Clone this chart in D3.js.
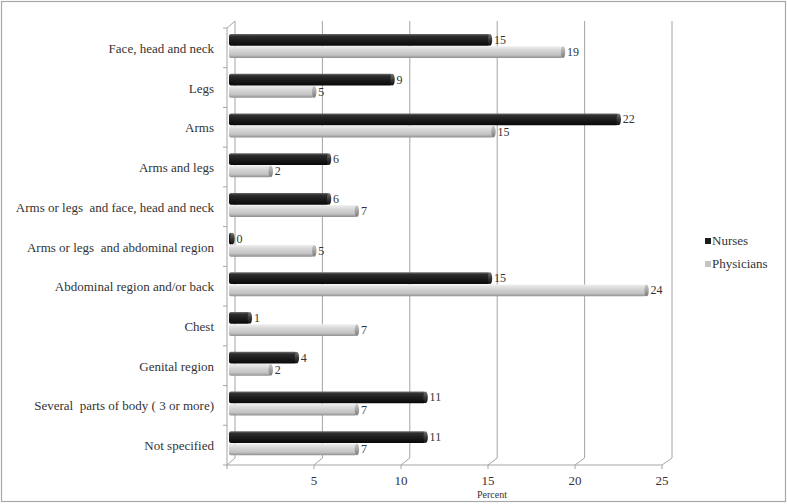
<!DOCTYPE html>
<html><head><meta charset="utf-8">
<script src="https://cdn.jsdelivr.net/npm/d3@7/dist/d3.min.js"></script>
<style>body{margin:0;background:#fff;} svg{display:block;} text{font-family:"Liberation Serif","DejaVu Serif",serif;}</style>
</head><body>
<svg id="c" width="787" height="504"></svg>
<script>
const categories = ["Face, head and neck","Legs","Arms","Arms and legs","Arms or legs  and face, head and neck","Arms or legs  and abdominal region","Abdominal region and/or back","Chest","Genital region","Several  parts of body ( 3 or more)","Not specified"];
const seriesNames = ["Nurses","Physicians"];
const nurses =     [15.0, 9.4, 22.4, 5.75, 5.75, 0.2, 15.0, 1.2, 3.9, 11.3, 11.3];
const physicians = [19.2, 4.9, 15.2, 2.4, 7.35, 4.9, 24.0, 7.35, 2.4, 7.35, 7.35];
const xTicks = [5, 10, 15, 20, 25];
const axisTitle = "Percent";

const svg = d3.select("#c");

svg.append("rect").attr("x",1.5).attr("y",1.5).attr("width",784).attr("height",500)
  .attr("fill","#fff").attr("stroke","#a8a8a8").attr("stroke-width",1.2);

const xFront = d3.scaleLinear().domain([0,25]).range([227,662]);
const xBack  = d3.scaleLinear().domain([0,25]).range([235,672]);
const xBar   = d3.scaleLinear().domain([0,25]).range([229,664]);
const yTop = 28, yBot = 465, dy = -7;
const yBand = d3.scaleBand().domain(categories).range([yTop,yBot]);
const ySer = d3.scaleBand().domain(seriesNames).range([6,30]).paddingInner(0.04);

const grid = "#a4a4a4";
svg.append("g").selectAll("line").data(xTicks).join("line")
  .attr("x1",d=>xBack(d)).attr("x2",d=>xBack(d)).attr("y1",yTop+dy).attr("y2",yBot+dy)
  .attr("stroke",grid).attr("stroke-width",1);
svg.append("line").attr("x1",xBack(0)).attr("x2",xBack(0)).attr("y1",yTop+dy).attr("y2",yBot+dy)
  .attr("stroke",grid);
svg.append("g").selectAll("line").data([0].concat(xTicks)).join("line")
  .attr("x1",d=>xFront(d)).attr("y1",yBot).attr("x2",d=>xBack(d)).attr("y2",yBot+dy)
  .attr("stroke",grid);
svg.append("line").attr("x1",xFront(0)).attr("x2",xFront(25)).attr("y1",yBot).attr("y2",yBot).attr("stroke",grid);
svg.append("g").selectAll("line").data([0].concat(xTicks)).join("line")
  .attr("x1",d=>xFront(d)).attr("x2",d=>xFront(d)).attr("y1",yBot).attr("y2",yBot+4).attr("stroke",grid);
svg.append("line").attr("x1",xFront(0)).attr("x2",xFront(0)).attr("y1",yTop).attr("y2",yBot).attr("stroke",grid);
svg.append("line").attr("x1",xFront(0)).attr("y1",yTop).attr("x2",xBack(0)).attr("y2",yTop+dy).attr("stroke",grid);
const bounds = categories.map(c=>yBand(c)).concat([yBot]);
svg.append("g").selectAll("line").data(bounds).join("line")
  .attr("x1",xFront(0)-4).attr("x2",xFront(0)).attr("y1",d=>d).attr("y2",d=>d).attr("stroke",grid);

const defs = svg.append("defs");
function grad(id, stops){
  const g = defs.append("linearGradient").attr("id",id).attr("x1",0).attr("y1",0).attr("x2",0).attr("y2",1);
  stops.forEach(s=>g.append("stop").attr("offset",s[0]).attr("stop-color",s[1]));
}
grad("gN",[[0,"#6e6e6e"],[0.18,"#2e2e2e"],[0.5,"#1e1e1e"],[1,"#080808"]]);
grad("gP",[[0,"#efefef"],[0.35,"#d6d6d6"],[0.75,"#c2c2c2"],[1,"#8e8e8e"]]);
grad("gNc",[[0,"#777"],[0.5,"#3a3a3a"],[1,"#111"]]);
grad("gPc",[[0,"#c8c8c8"],[0.5,"#a4a4a4"],[1,"#7a7a7a"]]);

const rows = [];
categories.forEach((c,i)=>{
  rows.push({c, s:"Nurses", v:nurses[i]});
  rows.push({c, s:"Physicians", v:physicians[i]});
});
const fmt = d3.format(".0f");
const bars = svg.append("g").selectAll("g").data(rows).join("g")
  .attr("transform",d=>`translate(0,${yBand(d.c)+ySer(d.s)})`);
const h = ySer.bandwidth();
bars.append("rect")
  .attr("x",xBar(0)).attr("y",0).attr("height",h)
  .attr("width",d=>Math.max(0.5,xBar(d.v)-xBar(0)))
  .attr("rx",2).attr("fill",d=>d.s==="Nurses"?"url(#gN)":"url(#gP)");
bars.append("ellipse")
  .attr("cx",d=>xBar(d.v)).attr("cy",h/2).attr("rx",2.2).attr("ry",h/2)
  .attr("fill",d=>d.s==="Nurses"?"url(#gNc)":"url(#gPc)");
bars.append("text")
  .attr("x",d=>xBar(d.v)+4).attr("y",h/2+4)
  .attr("font-size",12).attr("fill","#333")
  .text(d=>fmt(d.v));

svg.append("g").selectAll("text").data(categories).join("text")
  .attr("x",214).attr("y",d=>yBand(d)+yBand.bandwidth()/2+5)
  .attr("text-anchor","end").attr("font-size",13).attr("fill","#333")
  .style("white-space","pre").text(d=>d);

svg.append("g").selectAll("text").data(xTicks).join("text")
  .attr("x",d=>xFront(d)).attr("y",yBot+20).attr("text-anchor","middle")
  .attr("font-size",13).attr("fill","#333").text(d=>d);
svg.append("text").attr("x",492).attr("y",498).attr("text-anchor","middle")
  .attr("font-size",10).attr("fill","#333").text(axisTitle);

const lg = svg.append("g").selectAll("g").data(seriesNames).join("g")
  .attr("transform",(d,i)=>`translate(705,${238+i*23})`);
lg.append("rect").attr("width",6).attr("height",6).attr("fill",(d,i)=>i===0?"#1c1c1c":"#c4c4c4");
lg.append("text").attr("x",7).attr("y",7).attr("font-size",13).attr("fill","#333").text(d=>d);
</script>
</body></html>
